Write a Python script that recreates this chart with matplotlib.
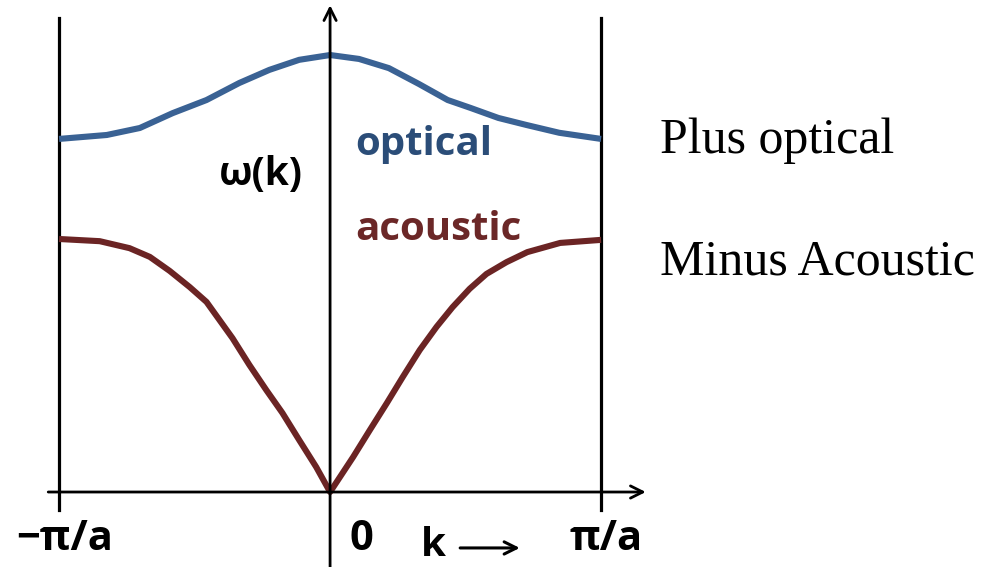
import matplotlib.pyplot as plt

# wavevector k in units of pi/a, frequency scaled so the optical maximum is 1
k_optical = [-1.0, -0.824, -0.702, -0.581, -0.456, -0.335, -0.224, -0.114, 0.0,
             0.107, 0.217, 0.327, 0.434, 0.518, 0.621, 0.724, 0.846, 1.0]
w_optical = [0.808, 0.817, 0.833, 0.867, 0.897, 0.936, 0.966, 0.989, 1.0,
             0.991, 0.970, 0.934, 0.897, 0.879, 0.856, 0.840, 0.822, 0.808]

k_acoustic = [-1.0, -0.85, -0.74, -0.665, -0.592, -0.518, -0.456, -0.36, -0.298,
              -0.235, -0.176, -0.114, -0.051, 0.0, 0.085, 0.147, 0.21, 0.268,
              0.331, 0.393, 0.452, 0.515, 0.577, 0.651, 0.728, 0.849, 1.0]
w_acoustic = [0.579, 0.574, 0.558, 0.538, 0.506, 0.469, 0.435, 0.352, 0.291,
              0.233, 0.181, 0.119, 0.057, 0.0, 0.080, 0.142, 0.204, 0.263,
              0.325, 0.378, 0.423, 0.465, 0.499, 0.526, 0.549, 0.570, 0.577]

tick_text = ['\u2212\u03c0/a', '0', '\u03c0/a']
tick_label_k = [-0.978, 0.114, 1.02]

blue = '#3a6294'
red = '#6b2424'
sans = ['Open Sans', 'DejaVu Sans']

fig = plt.figure(figsize=(9.97, 5.67), dpi=100)
ax = fig.add_axes([0, 0, 1, 1])
ax.set_xlim(-1.218, 2.461)
ax.set_ylim(-0.1716, 1.1259)
ax.axis('off')

# zone boundaries
for kb in (-1, 1):
    ax.plot([kb, kb], [-0.041, 1.085], color='black', lw=2.3)

# axes with arrow heads
ax.annotate('', xy=(1.165, 0), xytext=(-1.04, 0),
            arrowprops=dict(arrowstyle='->', lw=2.0, color='black',
                            mutation_scale=22, shrinkA=0, shrinkB=0))
ax.annotate('', xy=(0, 1.114), xytext=(0, -0.175),
            arrowprops=dict(arrowstyle='->', lw=2.0, color='black',
                            mutation_scale=22, shrinkA=0, shrinkB=0))

ax.plot(k_optical, w_optical, color=blue, lw=4.4, solid_capstyle='butt',
        solid_joinstyle='round')
ax.plot(k_acoustic, w_acoustic, color=red, lw=4.4, solid_capstyle='butt',
        solid_joinstyle='round')

# tick labels under the k axis
for xk, txt in zip(tick_label_k, tick_text):
    ax.text(xk, -0.1327, txt, ha='center', va='baseline', fontsize=30,
            fontweight='bold', family=sans)

ax.text(0.38, -0.147, 'k', ha='center', va='baseline', fontsize=29,
        fontweight='bold', family=sans)
ax.annotate('', xy=(0.70, -0.128), xytext=(0.48, -0.128),
            arrowprops=dict(arrowstyle='->', lw=2.2, color='black',
                            mutation_scale=22, shrinkA=0, shrinkB=0))

ax.text(-0.255, 0.702, '\u03c9(k)', ha='center', va='baseline', fontsize=28,
        fontweight='bold', family=sans)
ax.text(0.092, 0.772, 'optical', ha='left', va='baseline', fontsize=29,
        fontweight='bold', color='#2b4d78', family=sans)
ax.text(0.092, 0.577, 'acoustic', ha='left', va='baseline', fontsize=29,
        fontweight='bold', color='#6b2727', family=sans)

ax.text(1.218, 0.776, 'Plus optical', ha='left', va='baseline', fontsize=36,
        family='Liberation Serif')
ax.text(1.218, 0.497, 'Minus Acoustic', ha='left', va='baseline', fontsize=36,
        family='Liberation Serif')

fig.savefig('out.png', dpi=100)
